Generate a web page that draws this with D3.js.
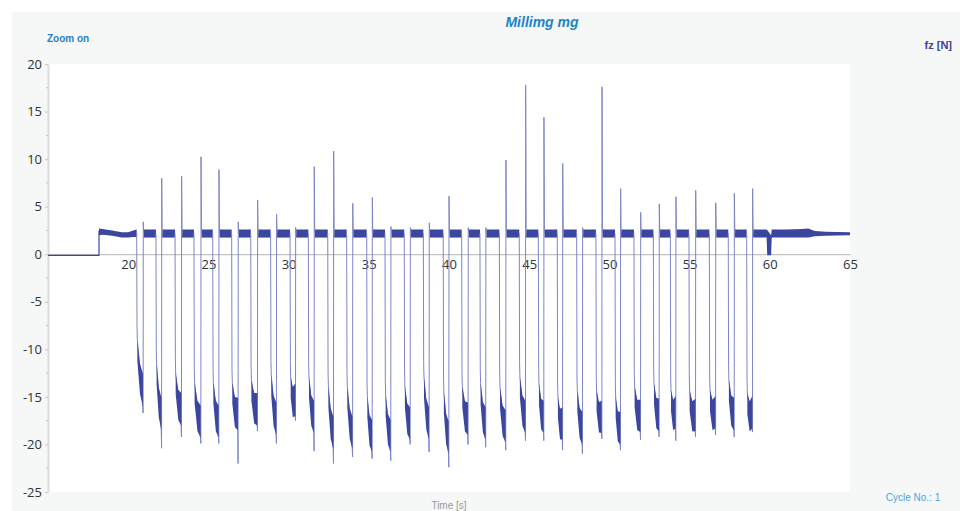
<!DOCTYPE html>
<html><head><meta charset="utf-8">
<script src="https://cdn.jsdelivr.net/npm/d3@7"></script>
<style>
html,body{margin:0;padding:0;background:#fff;}
svg{display:block;}
text{font-family:"Open Sans","DejaVu Sans",Arial,sans-serif;}
</style></head>
<body><svg id="chart" width="960" height="511"></svg>
<script>
// ---------- data ----------
const xTicks = [20,25,30,35,40,45,50,55,60,65];
const yTicks = [-25,-20,-15,-10,-5,0,5,10,15,20];
// cycle times (s): start of drop and moment of return
const dropT = [20.53,21.73,22.92,24.10,25.27,26.45,27.64,28.88,30.09,31.23,32.44,33.62,34.87,36.01,37.21,38.40,39.64,40.79,41.93,43.14,44.38,45.57,46.75,47.96,49.16,50.35,51.53,52.74,53.80,54.96,56.23,57.41,58.56];
const riseT = [20.94,22.09,23.33,24.54,25.66,26.86,28.07,29.25,30.44,31.60,32.81,34.00,35.22,36.38,37.59,38.77,40.00,41.20,42.30,43.55,44.78,45.92,47.09,48.33,49.54,50.70,51.95,53.11,54.15,55.38,56.63,57.79,58.93];
// dense (noisy) part of each cut: value at its start and its lowest end (N)
const darkTop = [-9.0,-11.5,-12.5,-13.5,-13.5,-13.5,-13.2,-12.7,-12.9,-12.9,-13.9,-13.9,-15.0,-14.8,-13.9,-12.9,-14.5,-13.9,-13.6,-14.0,-12.9,-13.6,-15.0,-14.3,-14.3,-15.0,-13.9,-13.6,-14.3,-14.3,-14.3,-13.2,-14.6];
const darkBot = [-16.0,-18.5,-18.0,-19.3,-19.3,-18.5,-18.0,-19.0,-17.0,-18.8,-20.5,-20.5,-20.8,-20.8,-19.5,-19.5,-21.0,-19.0,-19.5,-19.8,-18.8,-18.8,-19.5,-20.0,-18.8,-20.0,-18.7,-18.6,-18.3,-18.6,-18.3,-18.5,-18.3];
// minimum reached by the thin line and spike maximum on return (N)
const minV = [-16.7,-20.4,-19.2,-19.9,-19.9,-22.0,-18.6,-19.9,-17.5,-20.7,-22.0,-21.3,-21.5,-21.7,-20.0,-20.8,-22.4,-20.0,-20.3,-20.6,-19.6,-19.6,-20.6,-21.0,-19.4,-20.6,-19.5,-19.2,-19.6,-19.2,-19.0,-19.2,-18.7];
const peakV = [3.4,8.0,8.2,10.25,8.9,3.4,5.7,4.2,2.8,9.2,10.85,5.35,5.95,2.9,2.8,3.3,6.1,2.8,2.8,9.9,17.8,14.4,9.55,2.8,17.6,6.9,4.4,5.3,6.05,6.7,5.4,6.4,6.9];
// idle level before the step, step time, plateau band (N)
const idleT = [15.0, 18.18];
const idleV = [-0.12, -0.12];
const plateauMid = 2.2;
const plateauLo = 1.75;
const plateauHi = 2.6;
// first plateau (after the step) envelope
const firstT  = [18.18,18.4,19.0,19.6,20.0,20.3,20.53];
const firstHi = [2.7,2.65,2.5,2.3,2.3,2.5,2.6];
const firstLo = [2.0,2.05,1.95,1.75,1.75,1.8,1.8];
// tail envelope after the last cut
const tailT  = [58.93,59.80,59.84,60.08,60.12,61.0,62.0,62.4,62.8,63.5,65.0];
const tailHi = [2.6,2.6,2.55,2.0,2.6,2.6,2.65,2.7,2.45,2.35,2.3];
const tailLo = [1.75,1.75,-0.1,-0.1,1.75,1.75,1.75,1.75,1.9,1.95,2.0];

// ---------- layout ----------
const svg = d3.select("#chart");
const W = 960, H = 511;
const plotL = 48, plotR = 850, plotT = 64, plotB = 492;
const lineCol = "#3b479f";
const thinCol = "#7e85c6";

svg.append("rect").attr("x",0).attr("y",0).attr("width",W).attr("height",H).attr("fill","#ffffff");
svg.append("rect").attr("x",12).attr("y",12).attr("width",W-12).attr("height",H-12).attr("fill","#f6f7f7");
svg.append("rect").attr("x",plotL).attr("y",plotT).attr("width",plotR-plotL).attr("height",plotB-plotT).attr("fill","#ffffff");

const x = d3.scaleLinear().domain([15,65]).range([plotL,plotR]);
const y = d3.scaleLinear().domain([-25,20]).range([plotB,plotT]);
const fmt = d => String(d);

// y axis
const yAxis = svg.append("g").attr("transform",`translate(${plotL},0)`)
  .call(d3.axisLeft(y).tickValues(yTicks).tickFormat(fmt).tickSize(3).tickSizeOuter(0).tickPadding(3));
yAxis.select(".domain").attr("stroke","#dcdcdc").attr("stroke-width",2);
yAxis.selectAll(".tick line").attr("stroke","#c8c8c8");
yAxis.selectAll(".tick text").attr("fill","#333").style("font-size","13px").style("font-family","'Open Sans',sans-serif");
// minor y ticks
const minorY = yTicks.slice(0,-1).map(v=>v+2.5);
svg.append("g").selectAll("line").data(minorY).join("line")
  .attr("x1",plotL-2).attr("x2",plotL).attr("y1",d=>y(d)).attr("y2",d=>y(d)).attr("stroke","#c8c8c8");

// x axis at zero
const xAxis = svg.append("g").attr("transform",`translate(0,${y(0)})`)
  .call(d3.axisBottom(x).tickValues(xTicks).tickFormat(fmt).tickSize(0).tickSizeOuter(0).tickPadding(6));
xAxis.select(".domain").attr("stroke","#b4b4b4").attr("stroke-width",1);
xAxis.selectAll(".tick text").attr("fill","#333").style("font-size","13px").style("font-family","'Open Sans',sans-serif");

// ---------- signal ----------
const g = svg.append("g");
const area = d3.area().x(d=>x(d[0])).y0(d=>y(d[1])).y1(d=>y(d[2]));
const line = d3.line().x(d=>x(d[0])).y(d=>y(d[1]));

// idle + step
g.append("path").attr("d", line([[idleT[0],idleV[0]],[idleT[1],idleV[1]],[idleT[1],2.5]]))
  .attr("fill","none").attr("stroke",lineCol).attr("stroke-width",1.2);

// first plateau
g.append("path").attr("d", area(firstT.map((t,i)=>[t,firstLo[i],firstHi[i]]))).attr("fill",lineCol);

// plateaus between cuts
const plateaus = riseT.slice(0,-1).map((r,i)=>[r+0.03, dropT[i+1]]);
g.selectAll("path.plat").data(plateaus).join("path").attr("class","plat")
  .attr("d", d=>area([[d[0],plateauLo,plateauHi],[d[1],plateauLo,plateauHi]])).attr("fill",lineCol);

// tail
g.append("path").attr("d", area(tailT.map((t,i)=>[t+ (i===0?0.03:0),tailLo[i],tailHi[i]]))).attr("fill",lineCol);

// thin transitions for every cut
const cycles = dropT.map((d,i)=>({d, r:riseT[i], top:darkTop[i], bot:darkBot[i], min:minV[i], peak:peakV[i]}));
g.selectAll("path.thin").data(cycles).join("path").attr("class","thin")
  .attr("d", c=>line([
    [c.d, plateauMid],[c.d+0.02, c.top+1.5],[c.d+0.04, c.top],
    [c.r-0.03, c.bot],[c.r-0.01, c.min],[c.r, c.peak],[c.r+0.03, plateauMid]
  ]))
  .attr("fill","none").attr("stroke",thinCol).attr("stroke-width",1);

// dense noisy band of each cut
g.selectAll("path.dark").data(cycles).join("path").attr("class","dark")
  .attr("d", c=>area([
    [c.d+0.04, c.top-2.2, c.top],
    [c.d+(c.r-c.d)*0.5, (c.top+c.bot)/2-2.2, (c.top+c.bot)/2+1.0],
    [c.r-0.02, c.bot, c.bot+3.4]
  ]))
  .attr("fill",lineCol);

// ---------- texts ----------
svg.append("text").attr("x",542).attr("y",27).attr("text-anchor","middle")
  .style("font-family","Arial,'Liberation Sans',sans-serif").style("font-size","14px")
  .style("font-weight","bold").style("font-style","italic").attr("fill","#1b84c6").text("Millimg mg");
svg.append("text").attr("x",47).attr("y",42)
  .style("font-family","Arial,'Liberation Sans',sans-serif").style("font-size","10px")
  .style("font-weight","bold").attr("fill","#2a7fc4").text("Zoom on");
svg.append("text").attr("x",952).attr("y",49).attr("text-anchor","end")
  .style("font-family","Arial,'Liberation Sans',sans-serif").style("font-size","11px")
  .style("font-weight","bold").attr("fill","#3d4199").text("fz [N]");
svg.append("text").attr("x",449).attr("y",509).attr("text-anchor","middle")
  .style("font-family","Arial,'Liberation Sans',sans-serif").style("font-size","10px")
  .attr("fill","#9a9a9a").text("Time [s]");
svg.append("text").attr("x",913).attr("y",501).attr("text-anchor","middle")
  .style("font-family","Arial,'Liberation Sans',sans-serif").style("font-size","10px")
  .attr("fill","#4ea3dd").text("Cycle No.: 1");
</script></body></html>
